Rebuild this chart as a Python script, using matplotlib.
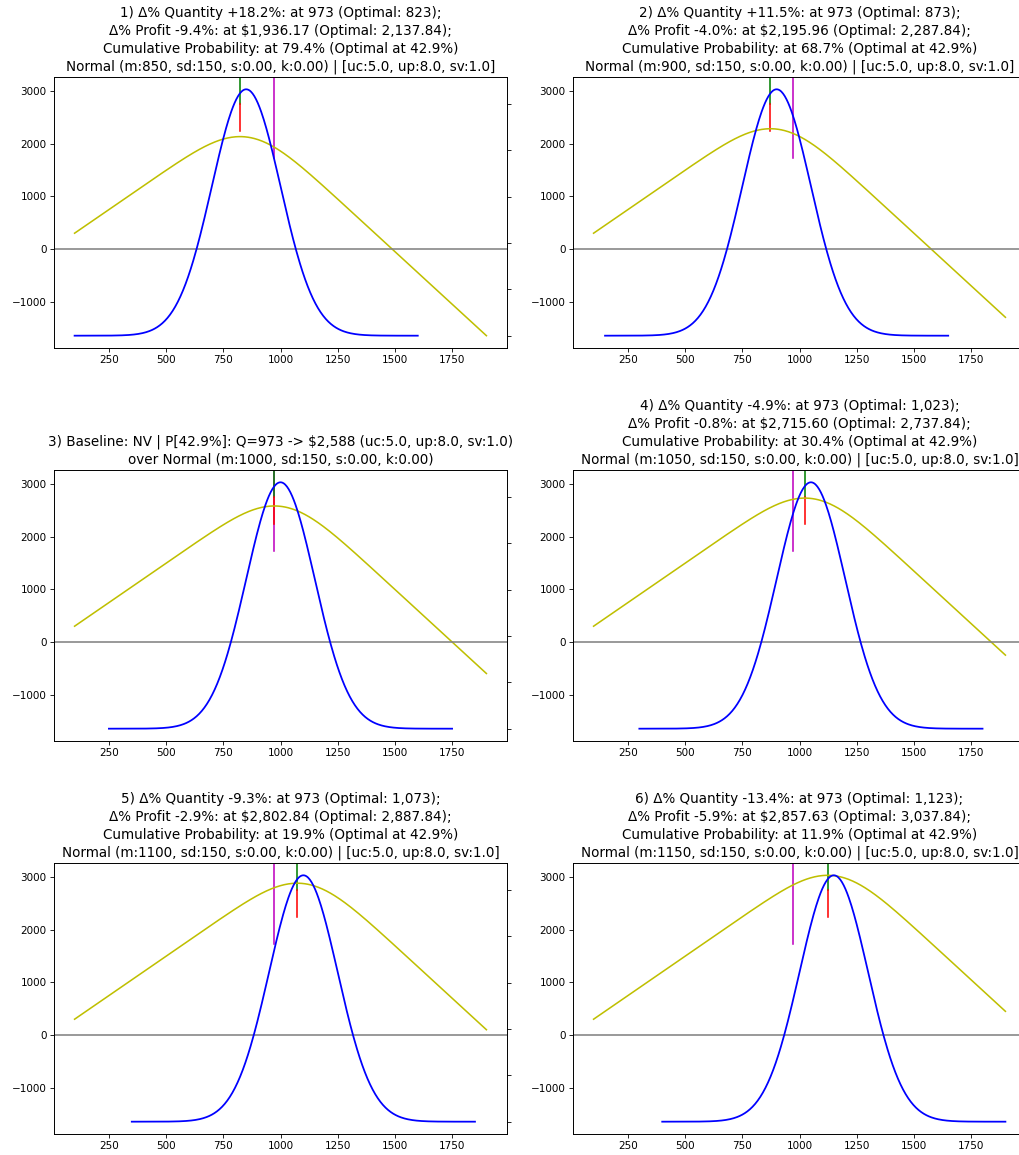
import math
import numpy as np
import matplotlib
matplotlib.use("Agg")
import matplotlib.pyplot as plt

# ---- data (titles) ----
means = [850, 900, 1000, 1050, 1100, 1150]
sd = 150
unit_cost = 5.0
unit_price = 8.0
salvage = 1.0
q_used = 973
q_optimal = [823, 873, 973, 1023, 1073, 1123]
q_range = (100, 1900)

titles = [
    "1) \u0394% Quantity +18.2%: at 973 (Optimal: 823);\n"
    "\u0394% Profit -9.4%: at $1,936.17 (Optimal: 2,137.84);\n"
    "Cumulative Probability: at 79.4% (Optimal at 42.9%)\n"
    "Normal (m:850, sd:150, s:0.00, k:0.00) | [uc:5.0, up:8.0, sv:1.0]",
    "2) \u0394% Quantity +11.5%: at 973 (Optimal: 873);\n"
    "\u0394% Profit -4.0%: at $2,195.96 (Optimal: 2,287.84);\n"
    "Cumulative Probability: at 68.7% (Optimal at 42.9%)\n"
    "Normal (m:900, sd:150, s:0.00, k:0.00) | [uc:5.0, up:8.0, sv:1.0]",
    "3) Baseline: NV | P[42.9%]: Q=973 -> $2,588 (uc:5.0, up:8.0, sv:1.0)\n"
    "over Normal (m:1000, sd:150, s:0.00, k:0.00)",
    "4) \u0394% Quantity -4.9%: at 973 (Optimal: 1,023);\n"
    "\u0394% Profit -0.8%: at $2,715.60 (Optimal: 2,737.84);\n"
    "Cumulative Probability: at 30.4% (Optimal at 42.9%)\n"
    "Normal (m:1050, sd:150, s:0.00, k:0.00) | [uc:5.0, up:8.0, sv:1.0]",
    "5) \u0394% Quantity -9.3%: at 973 (Optimal: 1,073);\n"
    "\u0394% Profit -2.9%: at $2,802.84 (Optimal: 2,887.84);\n"
    "Cumulative Probability: at 19.9% (Optimal at 42.9%)\n"
    "Normal (m:1100, sd:150, s:0.00, k:0.00) | [uc:5.0, up:8.0, sv:1.0]",
    "6) \u0394% Quantity -13.4%: at 973 (Optimal: 1,123);\n"
    "\u0394% Profit -5.9%: at $2,857.63 (Optimal: 3,037.84);\n"
    "Cumulative Probability: at 11.9% (Optimal at 42.9%)\n"
    "Normal (m:1150, sd:150, s:0.00, k:0.00) | [uc:5.0, up:8.0, sv:1.0]",
]

# ---- model (newsvendor expected profit, normal demand) ----
_erf = np.vectorize(math.erf)


def pdf(x, m, s):
    return np.exp(-0.5 * ((x - m) / s) ** 2) / (s * math.sqrt(2 * math.pi))


def cdf(x, m, s):
    return 0.5 * (1 + _erf((x - m) / (s * math.sqrt(2))))


def expected_profit(q, m, s):
    leftover = (q - m) * cdf(q, m, s) + s * s * pdf(q, m, s)
    return (unit_price - unit_cost) * q - (unit_price - salvage) * leftover


qs = np.linspace(q_range[0], q_range[1], 400)
profits = [expected_profit(qs, m, sd) for m in means]
pmin = min(p.min() for p in profits)
pmax = max(p.max() for p in profits)
pad = 0.05 * (pmax - pmin)

# ---- figure ----
DPI = 75
W, H = 1019, 1155
fig = plt.figure(figsize=(W / DPI, H / DPI), dpi=DPI)

col_left = [54, 573]
ax_w = 453
row_top = [77, 470, 863]
ax_h = 271

for i, m in enumerate(means):
    r, c = divmod(i, 2)
    left = col_left[c] / W
    bottom = 1 - (row_top[r] + ax_h) / H
    ax = fig.add_axes([left, bottom, ax_w / W, ax_h / H])

    ax.axvline(q_used, ymin=0.7, ymax=1.0, color="m")
    ax.axvline(q_optimal[i], ymin=0.9, ymax=1.0, color="g")
    ax.axvline(q_optimal[i], ymin=0.8, ymax=0.9, color="r")
    ax.plot(qs, profits[i], color="y")
    ax.axhline(0, color="gray")
    ax.set_ylim(pmin - pad, pmax + pad)
    ax.set_title(titles[i], fontsize=13, linespacing=1.36)

    ax2 = ax.twinx()
    xd = np.linspace(m - 5 * sd, m + 5 * sd, 400)
    ax2.plot(xd, pdf(xd, m, sd), color="b", lw=1.7)
    ax2.set_yticklabels([])
    ax.set_xlim(q_range[0] - 0.05 * (q_range[1] - q_range[0]),
                q_range[1] + 0.05 * (q_range[1] - q_range[0]))

fig.savefig("out.png", dpi=DPI)
